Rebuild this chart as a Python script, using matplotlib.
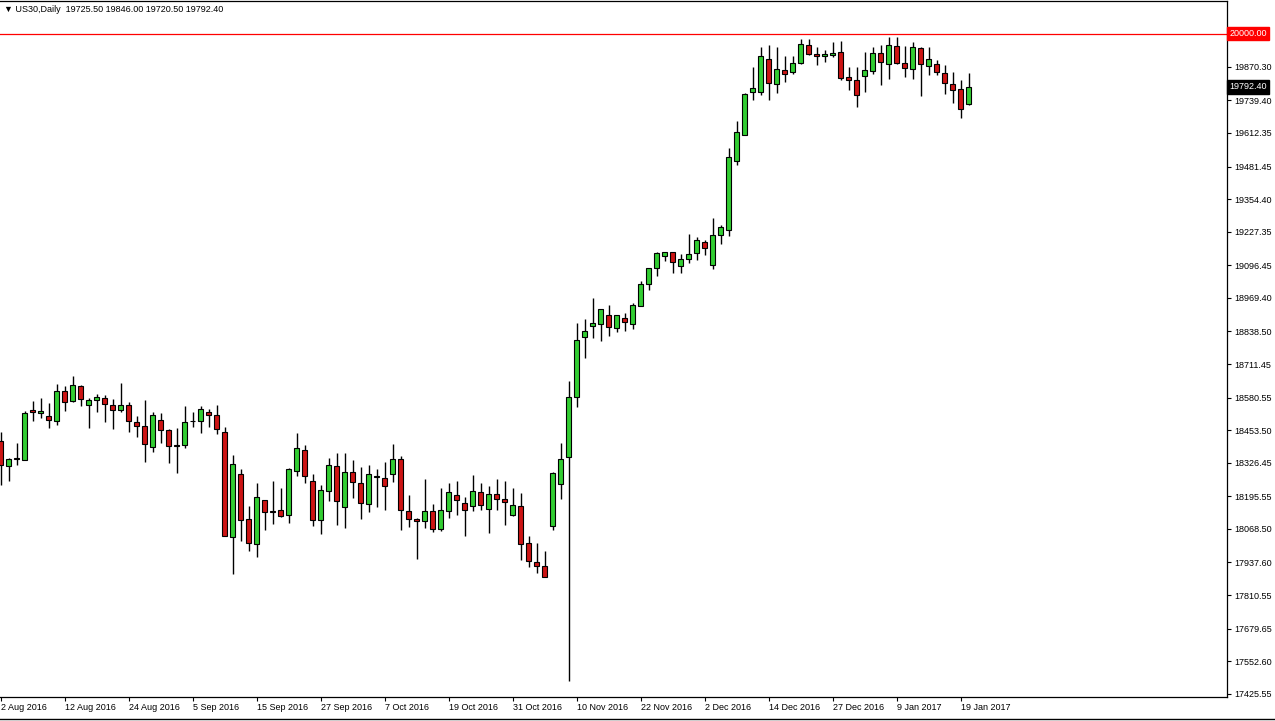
import numpy as np
import matplotlib.pyplot as plt
from matplotlib.lines import Line2D
import matplotlib.transforms as mtransforms

plt.rcParams['font.family'] = ['Liberation Sans', 'DejaVu Sans']

# ------------------------------------------------------------
# US30 daily bars, 2 Aug 2016 - 20 Jan 2017
opens = [18413, 18315, 18346, 18338, 18533, 18521, 18509, 18490, 18607, 18568,
         18627, 18552, 18572, 18579, 18553, 18531, 18553, 18487, 18470, 18389,
         18494, 18455, 18396, 18396, 18488, 18490, 18525, 18514, 18448, 18035,
         18284, 18106, 18011, 18180, 18140, 18141, 18124, 18294, 18377, 18257,
         18102, 18218, 18315, 18155, 18292, 18249, 18167, 18272, 18268, 18284,
         18342, 18140, 18106, 18101, 18137, 18068, 18140, 18199, 18171, 18159,
         18214, 18148, 18203, 18187, 18124, 18159, 18015, 17938, 17922, 18080,
         18245, 18348, 18582, 18817, 18858, 18866, 18902, 18852, 18890, 18866,
         18938, 19023, 19087, 19134, 19149, 19095, 19120, 19145, 19188, 19096,
         19213, 19234, 19505, 19606, 19772, 19772, 19902, 19804, 19859, 19851,
         19884, 19956, 19922, 19913, 19917, 19929, 19831, 19820, 19835, 19854,
         19925, 19882, 19952, 19886, 19863, 19942, 19874, 19882, 19847, 19804,
         19784, 19725.5]
highs = [18446, 18345, 18403, 18530, 18569, 18579, 18558, 18634, 18627, 18666,
         18630, 18579, 18595, 18592, 18575, 18636, 18562, 18507, 18572, 18523,
         18519, 18457, 18463, 18546, 18525, 18549, 18537, 18551, 18465, 18355,
         18301, 18157, 18247, 18183, 18254, 18229, 18307, 18443, 18394, 18284,
         18241, 18346, 18365, 18365, 18338, 18311, 18316, 18303, 18330, 18400,
         18354, 18202, 18111, 18262, 18164, 18227, 18249, 18254, 18193, 18277,
         18249, 18234, 18262, 18254, 18227, 18207, 18039, 18015, 17983, 18289,
         18402, 18647, 18872, 18888, 18969, 18927, 18942, 18902, 18911, 18949,
         19036, 19087, 19148, 19149, 19149, 19141, 19220, 19208, 19196, 19280,
         19252, 19555, 19658, 19767, 19868, 19946, 19956, 19946, 19911, 19911,
         19979, 19979, 19946, 19937, 19969, 19972, 19868, 19868, 19930, 19946,
         19956, 19988, 19988, 19953, 19969, 19946, 19946, 19898, 19878, 19851,
         19820, 19846.0]
lows = [18241, 18255, 18316, 18336, 18491, 18500, 18461, 18474, 18527, 18565,
        18547, 18461, 18523, 18484, 18457, 18523, 18446, 18426, 18329, 18368,
        18403, 18325, 18286, 18383, 18465, 18442, 18465, 18439, 18040, 17894,
        18022, 17982, 17957, 18063, 18088, 18113, 18092, 18274, 18247, 18081,
        18047, 18179, 18085, 18073, 18189, 18109, 18135, 18154, 18144, 18251,
        18063, 18074, 17952, 18072, 18058, 18061, 18111, 18123, 18041, 18137,
        18141, 18053, 18142, 18085, 18120, 17949, 17921, 17897, 17879, 18065,
        18184, 17477, 18543, 18733, 18811, 18803, 18819, 18838, 18842, 18848,
        18936, 18999, 19056, 19115, 19066, 19066, 19105, 19116, 19136, 19083,
        19178, 19212, 19489, 19603, 19742, 19762, 19742, 19768, 19811, 19843,
        19881, 19918, 19878, 19891, 19909, 19820, 19779, 19715, 19772, 19843,
        19801, 19822, 19881, 19830, 19822, 19756, 19838, 19838, 19764, 19729,
        19670, 19720.5]
closes = [18319, 18342, 18341, 18521, 18525, 18529, 18494, 18607, 18564, 18630,
          18575, 18573, 18583, 18556, 18531, 18552, 18490, 18470, 18400, 18514,
          18453, 18393, 18393, 18486, 18491, 18537, 18513, 18457, 18042, 18320,
          18105, 18015, 18192, 18136, 18136, 18119, 18303, 18385, 18276, 18105,
          18222, 18319, 18179, 18292, 18253, 18171, 18284, 18276, 18237, 18342,
          18144, 18109, 18101, 18140, 18068, 18144, 18214, 18181, 18144, 18218,
          18163, 18206, 18187, 18175, 18163, 18008, 17945, 17924, 17882, 18285,
          18342, 18583, 18805, 18842, 18871, 18927, 18855, 18902, 18875, 18941,
          19023, 19087, 19144, 19149, 19110, 19122, 19141, 19196, 19165, 19216,
          19245, 19519, 19615, 19763, 19789, 19911, 19808, 19863, 19843, 19886,
          19960, 19921, 19913, 19922, 19926, 19828, 19820, 19762, 19859, 19925,
          19890, 19956, 19884, 19866, 19946, 19882, 19902, 19851, 19807, 19779,
          19707, 19792.4]

date_labels = ['2 Aug 2016', '12 Aug 2016', '24 Aug 2016', '5 Sep 2016',
               '15 Sep 2016', '27 Sep 2016', '7 Oct 2016', '19 Oct 2016',
               '31 Oct 2016', '10 Nov 2016', '22 Nov 2016', '2 Dec 2016',
               '14 Dec 2016', '27 Dec 2016', '9 Jan 2017', '19 Jan 2017']
price_ticks = [19870.30, 19739.40, 19612.35, 19481.45, 19354.40, 19227.35,
               19096.45, 18969.40, 18838.50, 18711.45, 18580.55, 18453.50,
               18326.45, 18195.55, 18068.50, 17937.60, 17810.55, 17679.65,
               17552.60, 17425.55]
level = 20000.00
header = '\u25bc US30,Daily  19725.50 19846.00 19720.50 19792.40'

# ------------------------------------------------------------
fig = plt.figure(figsize=(12.75, 7.21), dpi=100)
ax = fig.add_axes([0, 24 / 721, 1227 / 1275, 696 / 721])

o = np.array(opens)
h = np.array(highs)
l = np.array(lows)
c = np.array(closes)
x = np.arange(len(o))
up = c >= o

green = '#32cd32'
red = '#cc1414'

ax.vlines(x, l, h, color='black', lw=1, zorder=2)
ax.bar(x[up], np.maximum(c - o, 1.5)[up], bottom=o[up], width=0.62,
       color=green, edgecolor='black', lw=0.8, zorder=3)
ax.bar(x[~up], np.maximum(o - c, 1.5)[~up], bottom=c[~up], width=0.62,
       color=red, edgecolor='black', lw=0.8, zorder=3)

ax.axhline(level, color='red', lw=0.9, zorder=1)

ax.set_xlim(-0.1, 153.3)
ax.set_ylim(17413, 20127)

ax.yaxis.tick_right()
ax.set_yticks(price_ticks)
ax.set_yticklabels(['%.2f' % v for v in price_ticks])
ax.set_xticks(np.arange(0, len(o), 8))
ax.set_xticklabels(date_labels, ha='left')
ax.tick_params(axis='both', direction='out', length=3, width=0.8,
               labelsize=6.5, colors='black', pad=2)
ax.tick_params(axis='x', pad=1.5)
ax.spines['left'].set_visible(False)
for s in ['top', 'right', 'bottom']:
    ax.spines[s].set_linewidth(0.9)

trans = mtransforms.blended_transform_factory(ax.transAxes, ax.transData)
ax.text(1.002, level, '%.2f' % level, transform=trans, fontsize=6.5,
        color='white', va='center', ha='left', clip_on=False,
        bbox=dict(boxstyle='square,pad=0.25', fc='red', ec='red'))
ax.text(1.002, closes[-1], '%.2f' % closes[-1], transform=trans,
        fontsize=6.5, color='white', va='center', ha='left', clip_on=False,
        bbox=dict(boxstyle='square,pad=0.25', fc='black', ec='black'))

fig.text(4 / 1275, 1 - 9 / 721, header, fontsize=6.5, va='center', ha='left')
fig.add_artist(Line2D([0, 1], [2 / 721, 2 / 721], color='black', lw=1))

fig.savefig('out.png', dpi=100)
